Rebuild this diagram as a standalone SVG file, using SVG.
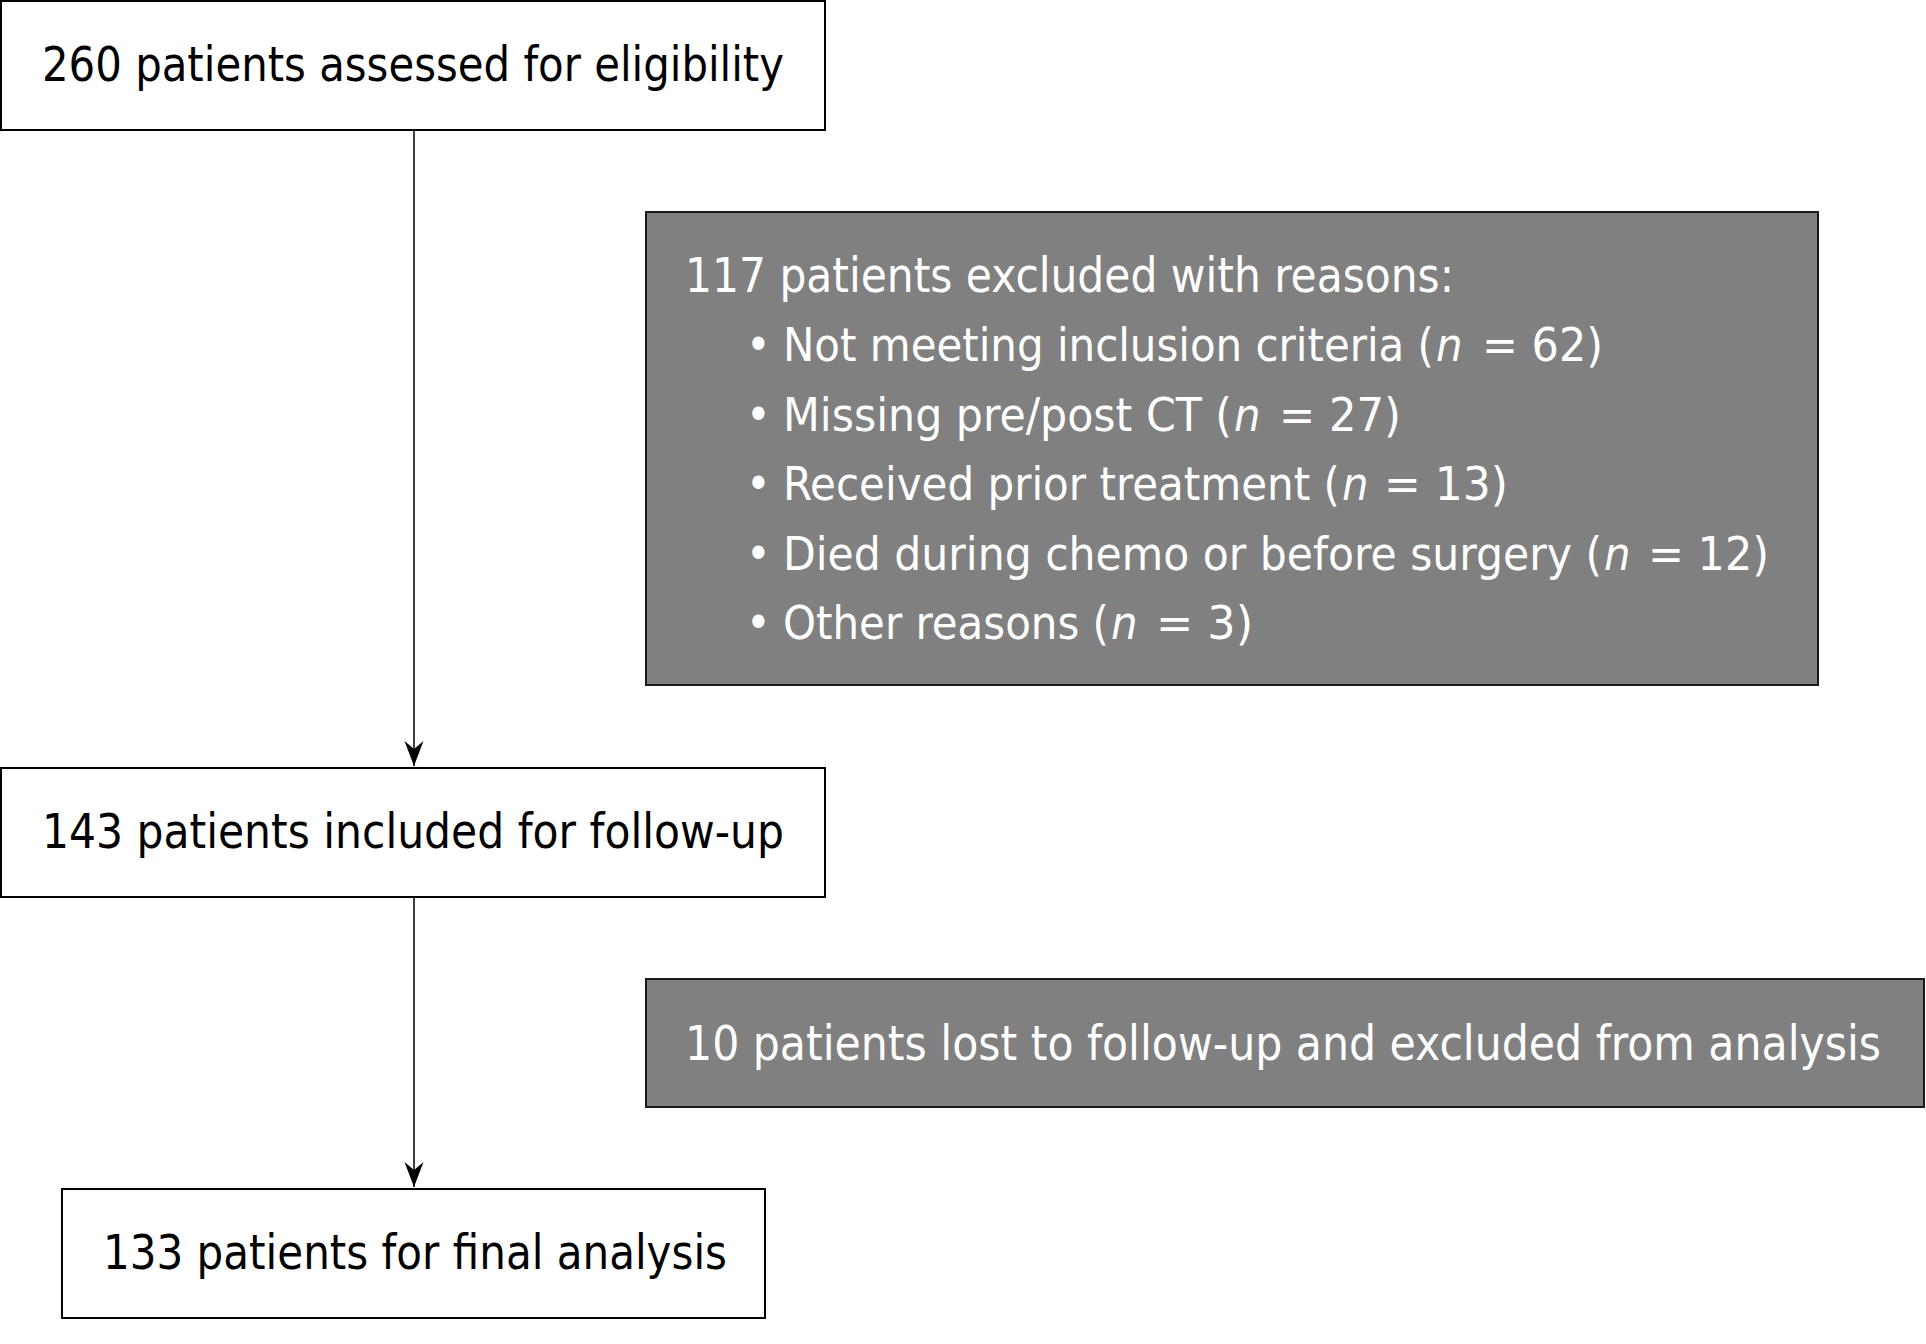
<svg xmlns="http://www.w3.org/2000/svg" width="1926" height="1344" viewBox="0 0 1926 1344">
<defs>
<style>
.box{fill:#ffffff;stroke:#000000;stroke-width:2}
.gbox{fill:#808080;stroke:#1a1a1a;stroke-width:2}
.t{font-family:"DejaVu Sans Condensed","DejaVu Sans",sans-serif;font-size:48px}
.b{font-family:"DejaVu Sans Condensed","DejaVu Sans",sans-serif;font-size:46.5px}
.it{font-style:italic}
.dark{fill:#000000}
.light{fill:#ffffff}
.edge{stroke:#000000;stroke-width:1.5;fill:none}
</style>
<marker id="ah" markerUnits="userSpaceOnUse" markerWidth="30" markerHeight="24" viewBox="-26 -12 28 24" refX="0" refY="0" orient="auto">
<path d="M0,0 L-25,-9.5 L-17,0 L-25,9.5 Z" fill="#000000"/>
</marker>
</defs>
<rect width="1926" height="1344" fill="#ffffff"/>
<g id="connectors">
<line class="edge" x1="414" y1="130" x2="414" y2="766" marker-end="url(#ah)"/>
<line class="edge" x1="414" y1="897" x2="414" y2="1187" marker-end="url(#ah)"/>
</g>
<g id="assessed">
<rect class="box" x="1" y="1" width="824" height="129"/>
<text class="t dark" x="42" y="81" textLength="742" lengthAdjust="spacingAndGlyphs">260 patients assessed for eligibility</text>
</g>
<g id="excluded">
<rect class="gbox" x="646" y="212" width="1172" height="473"/>
<text class="t light" x="685" y="292" textLength="769" lengthAdjust="spacingAndGlyphs">117 patients excluded with reasons:</text>
<text class="b light" x="746" y="361">•</text>
<text class="b light" x="783" y="361" textLength="651" lengthAdjust="spacingAndGlyphs">Not meeting inclusion criteria (</text>
<text class="b light it" x="1436" y="361">n</text>
<text class="b light" x="1482" y="361" textLength="121" lengthAdjust="spacingAndGlyphs">= 62)</text>
<text class="b light" x="746" y="430.5">•</text>
<text class="b light" x="783" y="430.5" textLength="449" lengthAdjust="spacingAndGlyphs">Missing pre/post CT (</text>
<text class="b light it" x="1234" y="430.5">n</text>
<text class="b light" x="1279" y="430.5" textLength="122" lengthAdjust="spacingAndGlyphs">= 27)</text>
<text class="b light" x="746" y="500">•</text>
<text class="b light" x="783" y="500" textLength="557" lengthAdjust="spacingAndGlyphs">Received prior treatment (</text>
<text class="b light it" x="1342" y="500">n</text>
<text class="b light" x="1384" y="500" textLength="124" lengthAdjust="spacingAndGlyphs">= 13)</text>
<text class="b light" x="746" y="569.5">•</text>
<text class="b light" x="783" y="569.5" textLength="819" lengthAdjust="spacingAndGlyphs">Died during chemo or before surgery (</text>
<text class="b light it" x="1604" y="569.5">n</text>
<text class="b light" x="1648" y="569.5" textLength="121" lengthAdjust="spacingAndGlyphs">= 12)</text>
<text class="b light" x="746" y="639">•</text>
<text class="b light" x="783" y="639" textLength="326" lengthAdjust="spacingAndGlyphs">Other reasons (</text>
<text class="b light it" x="1111" y="639">n</text>
<text class="b light" x="1156" y="639" textLength="97" lengthAdjust="spacingAndGlyphs">= 3)</text>
</g>
<g id="included">
<rect class="box" x="1" y="768" width="824" height="129"/>
<text class="t dark" x="42" y="848" textLength="742" lengthAdjust="spacingAndGlyphs">143 patients included for follow-up</text>
</g>
<g id="lost">
<rect class="gbox" x="646" y="979" width="1278" height="128"/>
<text class="t light" x="685" y="1060" textLength="1196" lengthAdjust="spacingAndGlyphs">10 patients lost to follow-up and excluded from analysis</text>
</g>
<g id="final">
<rect class="box" x="62" y="1189" width="703" height="129"/>
<text class="t dark" x="103" y="1269" textLength="624" lengthAdjust="spacingAndGlyphs">133 patients for final analysis</text>
</g>
</svg>
